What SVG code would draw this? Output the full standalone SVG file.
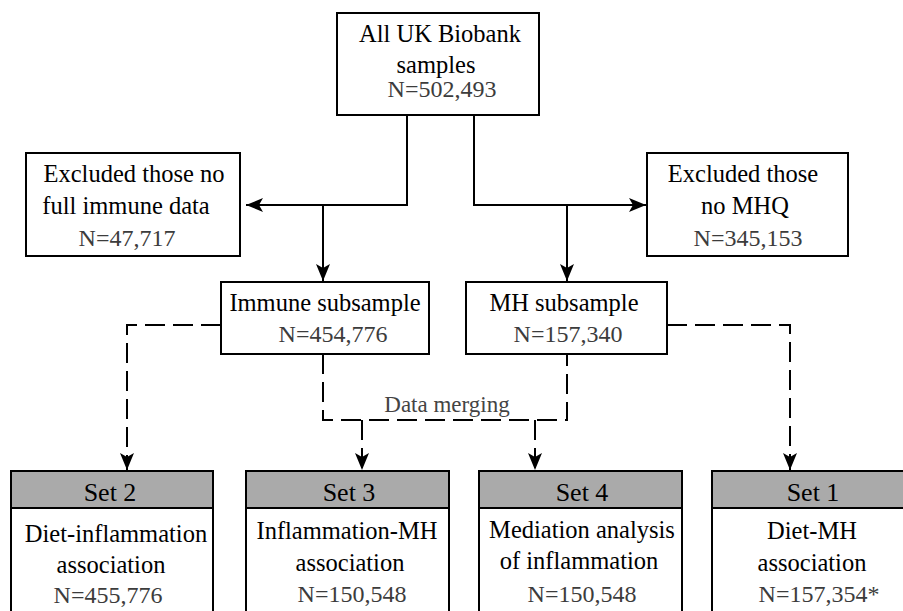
<svg xmlns="http://www.w3.org/2000/svg" width="903" height="611" viewBox="0 0 903 611" font-family="Liberation Serif, DejaVu Serif, serif">
<style>
.box{fill:#fff;stroke:#000;stroke-width:2}
.hdr{fill:#aaaaaa;stroke:#000;stroke-width:2}
text{text-anchor:middle}
.t{font-size:24.5px;fill:#000}
.n{font-size:24px;fill:#3c3c3c}
.s{font-size:26px;fill:#000}
.lbl{font-size:23px;fill:#444}
.ln{fill:none;stroke:#000;stroke-width:2}
.dash{fill:none;stroke:#000;stroke-width:2;stroke-dasharray:20 8}
</style>
<defs>
<marker id="ah" markerUnits="userSpaceOnUse" markerWidth="18" markerHeight="14" refX="17" refY="7" orient="auto">
<path d="M0,0 L17,7 L0,14 L4,7 z" fill="#000"/>
</marker>
</defs>
<rect width="903" height="611" fill="#fff"/>

<g id="connectors">
<path class="ln" d="M407,115 V205 H246" marker-end="url(#ah)"/>
<path class="ln" d="M323,205 V281" marker-end="url(#ah)"/>
<path class="ln" d="M474,115 V205 H646" marker-end="url(#ah)"/>
<path class="ln" d="M567,205 V281" marker-end="url(#ah)"/>
<path class="dash" d="M221,325 H127 V470" marker-end="url(#ah)"/>
<path class="dash" d="M667,325 H790 V470" marker-end="url(#ah)"/>
<path class="dash" d="M323,354 V420 H567 V354"/>
<path class="dash" d="M362,420 V470" marker-end="url(#ah)"/>
<path class="dash" d="M535,420 V470" marker-end="url(#ah)"/>
<text class="lbl" x="447" y="412" font-family="Liberation Serif, serif">Data merging</text>
</g>

<g id="all" font-family="Liberation Serif, serif">
<rect class="box" x="337" y="13" width="202" height="102"/>
<text class="t" x="440" y="42">All  UK Biobank</text>
<text class="t" x="436" y="73">samples</text>
<text class="n" x="442" y="97">N=502,493</text>
</g>

<g id="excl-immune" font-family="Liberation Serif, serif">
<rect class="box" x="26" y="153" width="214" height="103"/>
<text class="t" x="134" y="182">Excluded those no</text>
<text class="t" x="126" y="214">full immune data</text>
<text class="n" x="127" y="246">N=47,717</text>
</g>

<g id="excl-mhq" font-family="Liberation Serif, serif">
<rect class="box" x="647" y="153" width="201" height="103"/>
<text class="t" x="743" y="182">Excluded those</text>
<text class="t" x="745" y="214">no MHQ</text>
<text class="n" x="748" y="246">N=345,153</text>
</g>

<g id="immune" font-family="Liberation Serif, serif">
<rect class="box" x="221" y="282" width="208" height="72"/>
<text class="t" x="325" y="311">Immune subsample</text>
<text class="n" x="333" y="342">N=454,776</text>
</g>

<g id="mh" font-family="Liberation Serif, serif">
<rect class="box" x="466" y="282" width="201" height="72"/>
<text class="t" x="564" y="311">MH subsample</text>
<text class="n" x="568" y="342">N=157,340</text>
</g>

<g id="set2" font-family="Liberation Serif, serif">
<rect class="box" x="11" y="471" width="202" height="170"/>
<rect class="hdr" x="11" y="471" width="202" height="37"/>
<text class="s" x="110" y="501">Set 2</text>
<text class="t" x="116" y="542">Diet-inflammation</text>
<text class="t" x="111" y="573">association</text>
<text class="n" x="108" y="603">N=455,776</text>
</g>

<g id="set3" font-family="Liberation Serif, serif">
<rect class="box" x="246" y="471" width="203" height="170"/>
<rect class="hdr" x="246" y="471" width="203" height="37"/>
<text class="s" x="349" y="501">Set 3</text>
<text class="t" x="347" y="539">Inflammation-MH</text>
<text class="t" x="350" y="571">association</text>
<text class="n" x="352" y="602">N=150,548</text>
</g>

<g id="set4" font-family="Liberation Serif, serif">
<rect class="box" x="479" y="471" width="203" height="170"/>
<rect class="hdr" x="479" y="471" width="203" height="37"/>
<text class="s" x="582" y="501">Set 4</text>
<text class="t" x="582" y="538">Mediation analysis</text>
<text class="t" x="579" y="569">of inflammation</text>
<text class="n" x="582" y="602">N=150,548</text>
</g>

<g id="set1" font-family="Liberation Serif, serif">
<rect class="box" x="712" y="471" width="203" height="170"/>
<rect class="hdr" x="712" y="471" width="203" height="37"/>
<text class="s" x="813" y="501">Set 1</text>
<text class="t" x="812" y="539">Diet-MH</text>
<text class="t" x="812" y="571">association</text>
<text class="n" x="819" y="602">N=157,354*</text>
</g>
</svg>
